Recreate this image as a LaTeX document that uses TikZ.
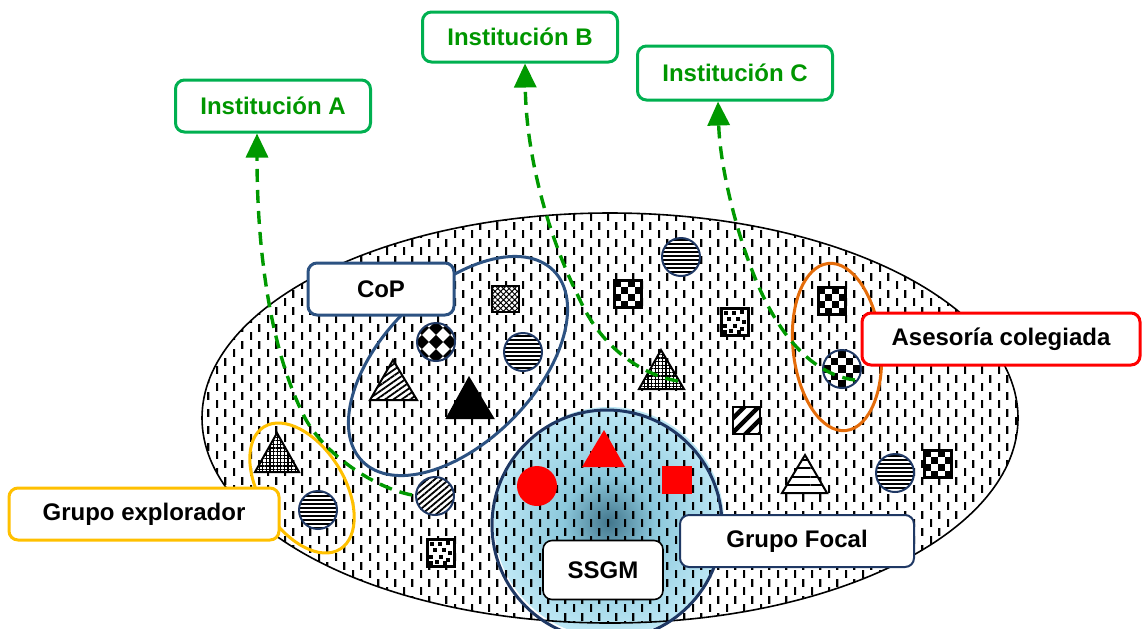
\documentclass[tikz,border=0pt]{standalone}
\usepackage{fontspec}
\setmainfont{Liberation Sans}
\usetikzlibrary{arrows.meta,patterns.meta}

\definecolor{darknavy}{RGB}{31,56,100}
\definecolor{copblue}{RGB}{44,82,130}
\definecolor{instgreen}{RGB}{0,176,80}
\definecolor{insttext}{RGB}{0,150,0}
\definecolor{linkgreen}{RGB}{0,153,0}
\definecolor{goldline}{RGB}{255,192,0}
\definecolor{asesorange}{RGB}{228,108,10}
\definecolor{focalin}{RGB}{66,118,140}
\definecolor{focalmid}{RGB}{140,200,220}
\definecolor{focalout}{RGB}{200,238,250}

\pgfdeclareradialshading{focal}{\pgfpoint{0bp}{0bp}}{color(0bp)=(focalin); color(10bp)=(focalmid); color(28bp)=(focalout); color(50bp)=(focalout)}

% the vertical dash texture of the community
\tikzdeclarepattern{
	name=vdash,
	type=uncolored,
	bottom left={(0pt,0pt)},
	top right={(8.3pt,8.3pt)},
	tile size={(8.3pt,8.3pt)},
	code={
		\fill (0pt,0pt) rectangle (1.15pt,4pt);
		\fill (4.15pt,4.15pt) rectangle (5.3pt,8.15pt);
	}
}

\newcommand{\lblfont}{\fontsize{12}{14}\selectfont\bfseries}

% checker square, centre #1,#2
\newcommand{\chksq}[2]{%
	\begin{scope}[shift={(#1,#2)}]
		\fill[white] (-13.5,-13.5) rectangle (13.5,13.5);
		\foreach \i in {0,...,3}
		\foreach \j in {0,...,3}{
			\pgfmathtruncatemacro{\k}{mod(\i+\j,2)}
			\ifnum\k=0 \fill (-13.5+6.75*\i,-13.5+6.75*\j) rectangle ++(6.75,6.75);\fi
		}
		\draw[sqline] (-13.5,-13.5) rectangle (13.5,13.5);
	\end{scope}}

% confetti square, centre #1,#2
\newcommand{\confsq}[2]{%
	\begin{scope}[shift={(#1,#2)}]
		\fill[white] (-13.5,-13.5) rectangle (13.5,13.5);
		\foreach \a/\b in {-9/-9,-1/-9,7/-10,3/-3,-6/-3,9/0,-10/4,0/4,7/7,-4/9,4/10,-10/10}
		\fill (\a-1.8,\b-1.8) rectangle ++(3.6,3.6);
		\draw[sqline] (-13.5,-13.5) rectangle (13.5,13.5);
	\end{scope}}

% checker disc, centre #1,#2, turned by #3, cell #4
\newcommand{\chkdisc}[4]{%
	\begin{scope}
		\fill[white] (#1,#2) circle[radius=19];
		\clip (#1,#2) circle[radius=19];
		\begin{scope}[shift={(#1,#2)}, rotate=#3]
			\foreach \i in {-3,...,3}
			\foreach \j in {-3,...,3}{
				\pgfmathtruncatemacro{\k}{mod(\i+\j+20,2)}
				\ifnum\k=0 \fill (\i*#4-#4/2,\j*#4-#4/2) rectangle ++(#4,#4);\fi
			}
		\end{scope}
	\end{scope}
	\draw[darknavy, line width=1pt] (#1,#2) circle[radius=19];}

\tikzset{
	sym/.style={draw=darknavy, line width=1pt, preaction={fill=white}},
	sqline/.style={draw=black, line width=1.4pt},
	tri/.style={draw=black, line width=1pt, preaction={fill=white}},
	ring/.style={line width=1.5pt},
	lbl/.style={draw, rounded corners=4.5pt, fill=white, font=\lblfont, inner sep=0pt, minimum height=26pt},
	inst/.style={lbl, draw=instgreen, line width=1.5pt, text=insttext, minimum width=97.5pt},
	link/.style={draw=linkgreen, line width=1.7pt, dash pattern=on 6.5pt off 4pt,
		-{Triangle[length=12pt,width=11pt,fill=linkgreen]}},
}

\begin{document}
\begin{tikzpicture}[x=0.5pt,y=-0.5pt]
	\useasboundingbox (0,0) rectangle (1143,628);
	
	% community and focal group
	\fill[white] (610,418) ellipse [x radius=408, y radius=205];
	\shade[shading=focal] (609,522) circle[radius=115];
	\draw[line width=0.8pt, pattern=vdash] (610,418) ellipse [x radius=408, y radius=205];
	\draw[darknavy, line width=1.5pt] (607,525) circle[radius=115];
	
	% striped discs
	\foreach \cx/\cy in {523/352, 681/257, 895/473, 318/510}
	\draw[sym, pattern={Lines[angle=0,distance=2pt,line width=1pt]}] (\cx,\cy) circle[radius=19];
	\draw[sym, pattern={Lines[angle=40,distance=2.3pt,line width=0.9pt]}] (435,496) circle[radius=19];
	\chkdisc{842}{369}{0}{7.6}
	\chkdisc{436}{342}{45}{10}
	
	% squares
	\draw[sqline, preaction={fill=white}, pattern={Hatch[angle=45,distance=2pt,line width=0.5pt]}] (492,286) rectangle (519,312);
	\chksq{628}{294}
	\chksq{832}{301}
	\chksq{938}{464}
	\confsq{735}{322}
	\confsq{441}{553}
	\draw[sqline, preaction={fill=white}, pattern={Lines[angle=45,distance=5pt,line width=2.2pt]}] (733,407) rectangle (760,434);
	
	% triangles
	\draw[tri, pattern={Lines[angle=35,distance=2.4pt,line width=0.9pt]}] (370,400) -- (417,400) -- (393,360) -- cycle;
	\filldraw[line width=1pt] (447,418) -- (493,418) -- (469,378) -- cycle;
	\draw[tri, pattern={Hatch[angle=0,distance=1.8pt,line width=0.6pt]}] (639,389) -- (684,389) -- (661,350) -- cycle;
	\draw[tri, pattern={Hatch[angle=0,distance=1.8pt,line width=0.6pt]}] (255,472) -- (299,472) -- (277,433) -- cycle;
	\draw[tri, pattern={Lines[angle=0,distance=4.2pt,line width=1pt]}] (782,493) -- (827,493) -- (805,455) -- cycle;
	
	% SSGM members
	\fill[red] (537,486) circle[radius=20];
	\fill[red] (582,467) -- (625,467) -- (604,430) -- cycle;
	\fill[red] (662,466) rectangle (692,494);
	
	% groupings
	\draw[ring, copblue, rotate around={45:(458,366)}] (458,366) ellipse [x radius=135, y radius=76];
	\draw[ring, asesorange, rotate around={96:(837,347)}] (837,347) ellipse [x radius=84, y radius=44];
	\draw[ring, goldline, rotate around={122:(302,488)}] (302,488) ellipse [x radius=72, y radius=42];
	
	% labels
	\node[inst] (instA) at (273,106) {Institución A};
	\node[inst, minimum height=25pt] (instB) at (520,37) {Institución B};
	\node[inst, minimum height=27pt] (instC) at (735,73) {Institución C};
	\node[lbl, draw=copblue, line width=1.5pt, minimum width=73pt] (cop) at (381,289) {CoP};
	\node[lbl, draw=red, line width=1.5pt, minimum width=139pt] (ases) at (1001,339) {Asesoría colegiada};
	\node[lbl, draw=goldline, line width=1.5pt, minimum width=135pt] (explo) at (144,514) {Grupo explorador};
	\node[lbl, draw=darknavy, line width=1pt, minimum width=117pt] (focal) at (797,541) {Grupo Focal};
	\node[lbl, draw=black, line width=0.8pt, minimum width=60pt, minimum height=29.5pt] (ssgm) at (603,570) {SSGM};
	
	% links to the institutions
	\coordinate (fromA) at (412,495);
	\coordinate (fromB) at (678,381);
	\coordinate (fromC) at (855,380);
	\draw[link] (fromA) .. controls (375,488) and (325,455) .. (305,418)
	.. controls (270,350) and (257,250) .. ([xshift=-8pt]instA.south);
	\draw[link] (fromB) .. controls (640,375) and (600,345) .. (580,300)
	.. controls (545,230) and (526,150) .. ([xshift=2.5pt]instB.south);
	\draw[link] (fromC) .. controls (815,375) and (785,340) .. (765,300)
	.. controls (740,250) and (720,170) .. ([xshift=-8.5pt]instC.south);
\end{tikzpicture}
\end{document}
